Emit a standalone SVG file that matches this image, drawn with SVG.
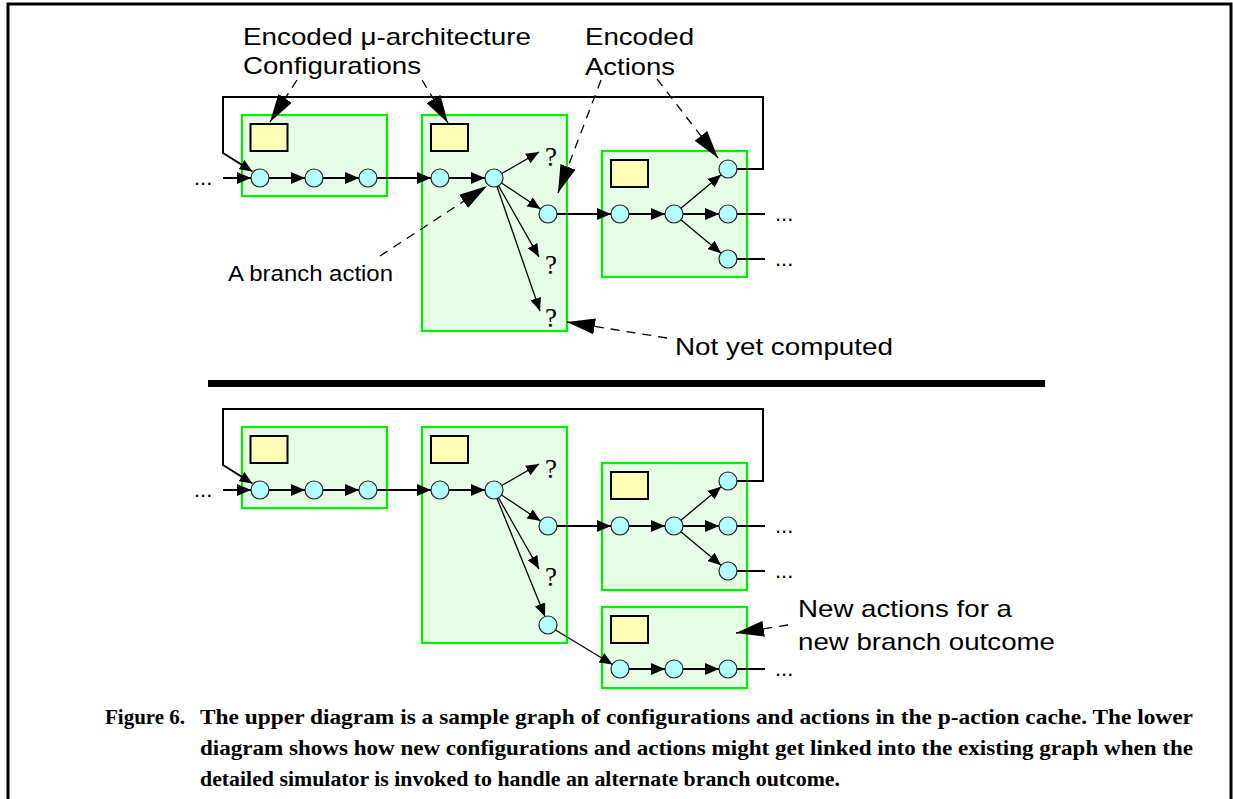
<svg xmlns="http://www.w3.org/2000/svg" width="1233" height="799" viewBox="0 0 1233 799">
  <defs>
    <style>
      .frame { fill: none; stroke: #000; stroke-width: 3; }
      .box { fill: #e6fde6; stroke: #00ee00; stroke-width: 2.2; }
      .cfg { fill: #ffffb8; stroke: #000; stroke-width: 2; }
      .act { fill: #b3ffff; stroke: #222; stroke-width: 1.2; }
      .main { fill: none; stroke: #000; stroke-width: 2; }
      .thin { fill: none; stroke: #000; stroke-width: 1.3; }
      .dash { fill: none; stroke: #000; stroke-width: 1.3; stroke-dasharray: 9 7; }
      .lbl { font-family: "Liberation Sans", Arial, sans-serif; font-size: 24px; fill: #000; }
      .sml { font-family: "Liberation Sans", Arial, sans-serif; font-size: 22px; fill: #000; }
      .dots { font-family: "Liberation Sans", Arial, sans-serif; font-size: 22px; fill: #000; }
      .q { font-family: "Liberation Serif", "Times New Roman", serif; font-size: 27px; fill: #000; text-anchor: middle; }
      .cap { font-family: "Liberation Serif", "Times New Roman", serif; font-size: 21px; font-weight: bold; fill: #000; }
    </style>
    <marker id="ah" markerUnits="userSpaceOnUse" markerWidth="14" markerHeight="12" refX="14" refY="6" orient="auto">
      <path d="M0,0 L14,6 L0,12 Z" fill="#000"/>
    </marker>
    <marker id="ahs" markerUnits="userSpaceOnUse" markerWidth="13" markerHeight="11" refX="13" refY="5.5" orient="auto">
      <path d="M0,0 L13,5.5 L0,11 Z" fill="#000"/>
    </marker>
    <marker id="ahb" markerUnits="userSpaceOnUse" markerWidth="28" markerHeight="16" refX="28" refY="8" orient="auto">
      <path d="M0,0 L28,8 L0,16 Z" fill="#000"/>
    </marker>
  </defs>

  <rect x="8" y="4" width="1223" height="820" class="frame"/>

  <!-- ===== upper graph ===== -->
  <g id="u-cfg1">
    <rect class="box" x="242" y="115" width="145" height="81"/>
    <rect class="cfg" x="250.5" y="124" width="37" height="27"/>
  </g>
  <g id="u-cfg2">
    <rect class="box" x="422" y="115" width="145" height="216"/>
    <rect class="cfg" x="431" y="124" width="37" height="27"/>
  </g>
  <g id="u-cfg3">
    <rect class="box" x="602" y="151" width="145" height="126"/>
    <rect class="cfg" x="611" y="160" width="37" height="27"/>
  </g>

  <!-- ===== lower graph ===== -->
  <g id="l-cfg1">
    <rect class="box" x="242" y="427" width="145" height="81"/>
    <rect class="cfg" x="250.5" y="436" width="37" height="27"/>
  </g>
  <g id="l-cfg2">
    <rect class="box" x="422" y="427" width="145" height="216"/>
    <rect class="cfg" x="431" y="436" width="37" height="27"/>
  </g>
  <g id="l-cfg3">
    <rect class="box" x="602" y="463" width="145" height="127"/>
    <rect class="cfg" x="611" y="472" width="37" height="27"/>
  </g>
  <g id="l-cfg4">
    <rect class="box" x="602" y="607" width="145" height="81"/>
    <rect class="cfg" x="611" y="616" width="37" height="27"/>
  </g>

  <!-- connectors -->
  <g id="connectors">
    <!-- upper chain -->
    <line class="main" x1="223" y1="178" x2="251" y2="178" marker-end="url(#ah)"/>
    <line class="main" x1="269" y1="178" x2="305" y2="178" marker-end="url(#ah)"/>
    <line class="main" x1="323" y1="178" x2="359" y2="178" marker-end="url(#ah)"/>
    <line class="main" x1="377" y1="178" x2="431" y2="178" marker-end="url(#ah)"/>
    <line class="main" x1="449" y1="178" x2="485" y2="178" marker-end="url(#ah)"/>
    <line class="thin" x1="501.8" y1="173.5" x2="539" y2="152" marker-end="url(#ahs)"/>
    <line class="thin" x1="501.5" y1="183" x2="540.5" y2="209" marker-end="url(#ahs)"/>
    <line class="thin" x1="498.5" y1="185.8" x2="539" y2="257" marker-end="url(#ahs)"/>
    <line class="thin" x1="497" y1="186.5" x2="540" y2="311" marker-end="url(#ahs)"/>
    <line class="main" x1="557" y1="214" x2="611" y2="214" marker-end="url(#ah)"/>
    <line class="main" x1="629" y1="214" x2="665" y2="214" marker-end="url(#ah)"/>
    <line class="thin" x1="680.9" y1="208.2" x2="721.1" y2="174.8" marker-end="url(#ahs)"/>
    <line class="main" x1="683" y1="214" x2="719" y2="214" marker-end="url(#ah)"/>
    <line class="thin" x1="680.9" y1="219.8" x2="721.1" y2="253.2" marker-end="url(#ahs)"/>
    <line class="main" x1="737" y1="214" x2="765" y2="214"/>
    <line class="main" x1="737" y1="259" x2="765" y2="259"/>
    <path class="main" d="M737,169 H763 V97 H223 V153 L252.5,171.5" marker-end="url(#ahs)"/>

    <!-- lower chain -->
    <line class="main" x1="223" y1="490" x2="251" y2="490" marker-end="url(#ah)"/>
    <line class="main" x1="269" y1="490" x2="305" y2="490" marker-end="url(#ah)"/>
    <line class="main" x1="323" y1="490" x2="359" y2="490" marker-end="url(#ah)"/>
    <line class="main" x1="377" y1="490" x2="431" y2="490" marker-end="url(#ah)"/>
    <line class="main" x1="449" y1="490" x2="485" y2="490" marker-end="url(#ah)"/>
    <line class="thin" x1="501.8" y1="485.5" x2="539" y2="464" marker-end="url(#ahs)"/>
    <line class="thin" x1="501.5" y1="495" x2="540.5" y2="521" marker-end="url(#ahs)"/>
    <line class="thin" x1="498.5" y1="497.8" x2="539" y2="569" marker-end="url(#ahs)"/>
    <line class="thin" x1="497" y1="498.5" x2="545" y2="616.5" marker-end="url(#ahs)"/>
    <line class="main" x1="557" y1="526" x2="611" y2="526" marker-end="url(#ah)"/>
    <line class="main" x1="629" y1="526" x2="665" y2="526" marker-end="url(#ah)"/>
    <line class="thin" x1="680.9" y1="520.2" x2="721.1" y2="486.8" marker-end="url(#ahs)"/>
    <line class="main" x1="683" y1="526" x2="719" y2="526" marker-end="url(#ah)"/>
    <line class="thin" x1="680.9" y1="531.8" x2="721.1" y2="565.2" marker-end="url(#ahs)"/>
    <line class="main" x1="737" y1="526" x2="765" y2="526"/>
    <line class="main" x1="737" y1="571" x2="765" y2="571"/>
    <path class="main" d="M737,481 H763 V409 H223 V465 L252.5,483.5" marker-end="url(#ahs)"/>
    <line class="thin" x1="555.5" y1="630" x2="612.5" y2="664.5" marker-end="url(#ahs)"/>
    <line class="main" x1="629" y1="669" x2="665" y2="669" marker-end="url(#ah)"/>
    <line class="main" x1="683" y1="669" x2="719" y2="669" marker-end="url(#ah)"/>
    <line class="main" x1="737" y1="669" x2="765" y2="669"/>

    <!-- annotation pointers -->
    <line class="dash" x1="297" y1="80" x2="270" y2="122" marker-end="url(#ahb)"/>
    <line class="dash" x1="422" y1="80" x2="448" y2="123" marker-end="url(#ahb)"/>
    <line class="dash" x1="601" y1="80" x2="558" y2="193" marker-end="url(#ahb)"/>
    <line class="dash" x1="657" y1="79" x2="718" y2="158" marker-end="url(#ahb)"/>
    <line class="dash" x1="380" y1="256" x2="487" y2="186" marker-end="url(#ahb)"/>
    <line class="dash" x1="667" y1="338" x2="567" y2="322" marker-end="url(#ahb)"/>
    <line class="dash" x1="788" y1="625" x2="736" y2="633" marker-end="url(#ahb)"/>

    <!-- divider between the two graphs -->
    <rect x="208" y="380" width="837" height="7" fill="#000"/>
  </g>

  <!-- actions (circles) -->
  <g id="u-actions">
    <circle class="act" cx="260" cy="178" r="9"/>
    <circle class="act" cx="314" cy="178" r="9"/>
    <circle class="act" cx="368" cy="178" r="9"/>
    <circle class="act" cx="440" cy="178" r="9"/>
    <circle class="act" cx="494" cy="178" r="9"/>
    <circle class="act" cx="548" cy="214" r="9"/>
    <circle class="act" cx="620" cy="214" r="9"/>
    <circle class="act" cx="674" cy="214" r="9"/>
    <circle class="act" cx="728" cy="169" r="9"/>
    <circle class="act" cx="728" cy="214" r="9"/>
    <circle class="act" cx="728" cy="259" r="9"/>
    <text class="q" x="551" y="166">?</text>
    <text class="q" x="551" y="274">?</text>
    <text class="q" x="551" y="327">?</text>
  </g>
  <g id="l-actions">
    <circle class="act" cx="260" cy="490" r="9"/>
    <circle class="act" cx="314" cy="490" r="9"/>
    <circle class="act" cx="368" cy="490" r="9"/>
    <circle class="act" cx="440" cy="490" r="9"/>
    <circle class="act" cx="494" cy="490" r="9"/>
    <circle class="act" cx="548" cy="526" r="9"/>
    <circle class="act" cx="548" cy="625" r="9"/>
    <circle class="act" cx="620" cy="526" r="9"/>
    <circle class="act" cx="674" cy="526" r="9"/>
    <circle class="act" cx="728" cy="481" r="9"/>
    <circle class="act" cx="728" cy="526" r="9"/>
    <circle class="act" cx="728" cy="571" r="9"/>
    <circle class="act" cx="620" cy="669" r="9"/>
    <circle class="act" cx="674" cy="669" r="9"/>
    <circle class="act" cx="728" cy="669" r="9"/>
    <text class="q" x="551" y="478">?</text>
    <text class="q" x="551" y="586">?</text>
  </g>

  <!-- continuation dots -->
  <g id="dots">
    <text class="dots" x="194" y="185">...</text>
    <text class="dots" x="775" y="221">...</text>
    <text class="dots" x="775" y="266">...</text>
    <text class="dots" x="194" y="497">...</text>
    <text class="dots" x="775" y="533">...</text>
    <text class="dots" x="775" y="578">...</text>
    <text class="dots" x="775" y="676">...</text>
  </g>

  <!-- labels -->
  <g id="labels">
    <text class="lbl" x="243" y="44.5" textLength="288" lengthAdjust="spacingAndGlyphs">Encoded μ-architecture</text>
    <text class="lbl" x="243" y="74" textLength="178" lengthAdjust="spacingAndGlyphs">Configurations</text>
    <text class="lbl" x="585" y="45" textLength="109" lengthAdjust="spacingAndGlyphs">Encoded</text>
    <text class="lbl" x="585" y="75" textLength="90" lengthAdjust="spacingAndGlyphs">Actions</text>
    <text class="sml" x="228" y="281" textLength="165" lengthAdjust="spacingAndGlyphs">A branch action</text>
    <text class="lbl" x="675" y="355" textLength="218" lengthAdjust="spacingAndGlyphs">Not yet computed</text>
    <text class="lbl" x="798" y="617" textLength="214" lengthAdjust="spacingAndGlyphs">New actions for a</text>
    <text class="lbl" x="798" y="649.5" textLength="257" lengthAdjust="spacingAndGlyphs">new branch outcome</text>
  </g>

  <!-- caption -->
  <g id="caption">
    <text class="cap" x="105" y="724">Figure 6.</text>
    <text class="cap" x="200" y="724" textLength="993" lengthAdjust="spacingAndGlyphs">The upper diagram is a sample graph of configurations and actions in the p-action cache. The lower</text>
    <text class="cap" x="200" y="755" textLength="993" lengthAdjust="spacingAndGlyphs">diagram shows how new configurations and actions might get linked into the existing graph when the</text>
    <text class="cap" x="200" y="786" textLength="640" lengthAdjust="spacingAndGlyphs">detailed simulator is invoked to handle an alternate branch outcome.</text>
  </g>
</svg>
